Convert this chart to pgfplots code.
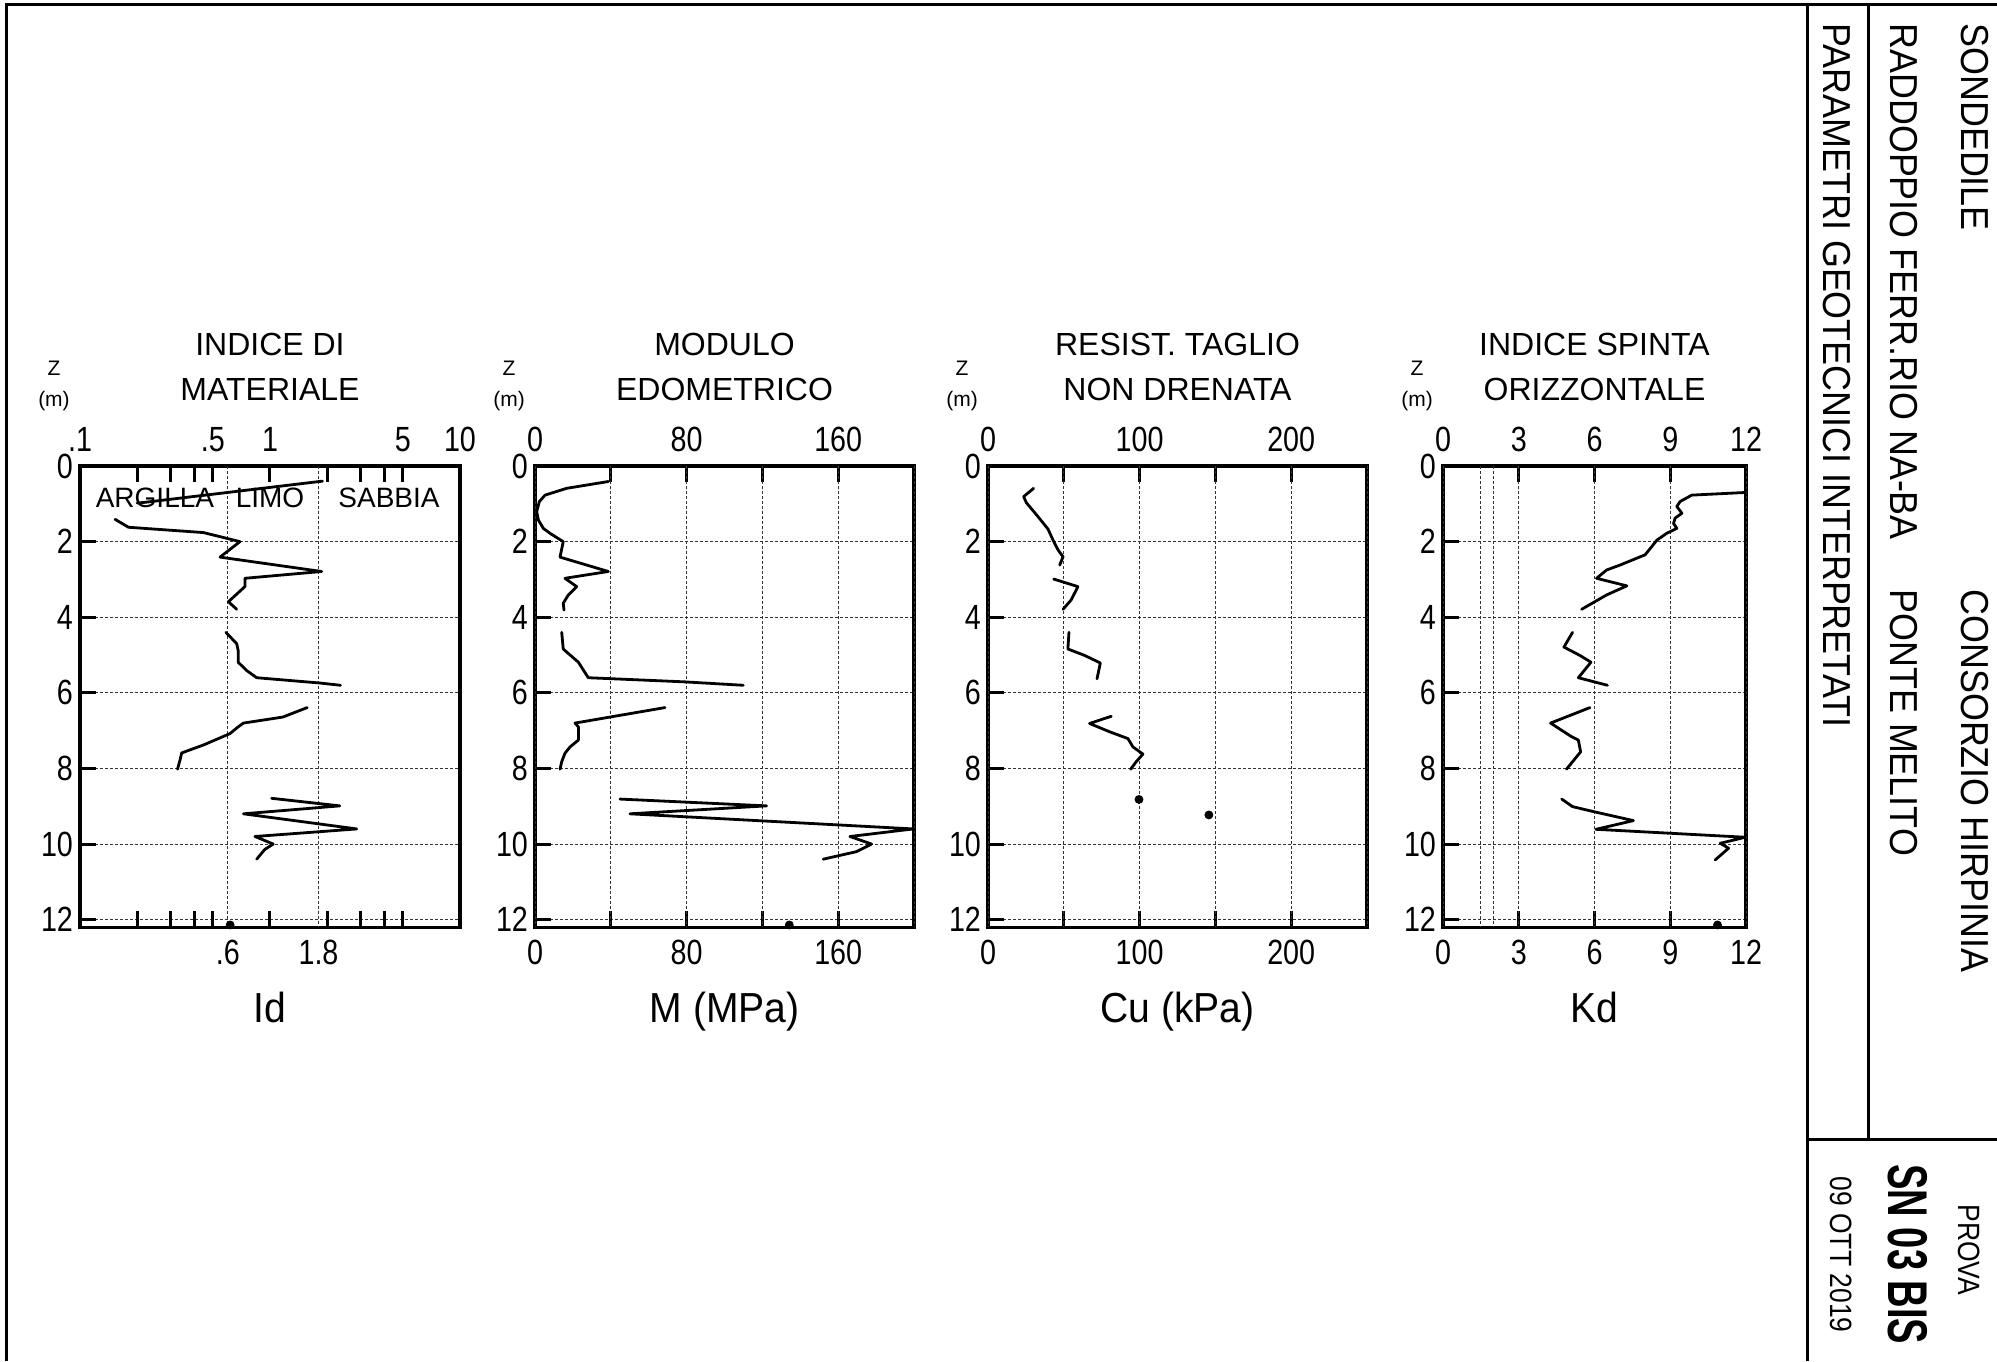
\documentclass[border=0pt]{standalone}
\usepackage{fontspec}
\setmainfont{Liberation Sans}
\newfontfamily\tickfam[FakeStretch=0.82]{Liberation Sans}
\newfontfamily\labfam[FakeStretch=0.93]{Liberation Sans}
\newfontfamily\hdrfam[FakeStretch=0.92]{Liberation Sans}
\newfontfamily\provfam[FakeStretch=0.86]{Liberation Sans}
\newfontfamily\snfam[FakeStretch=0.68]{Liberation Sans}
\usepackage{pgfplots}
\pgfplotsset{compat=1.18}
\pgfplotsset{
  panel/.style={
    scale only axis, height=230.6pt, anchor=north west,
    y dir=reverse, ymin=0, ymax=12.2,
    ytick={0,2,4,6,8,10,12}, yticklabels={0,2,4,6,8,10,12}, ytick pos=left,
    xtick pos=both, xticklabels={},
    tick align=inside, major tick length=8pt,
    tick style={black, line width=1.5pt},
    axis line style={black, line width=1.6pt},
    ymajorgrids,
    grid style={black!80, line width=0.5pt, dash pattern=on 1.5pt off 1pt},
    extra tick style={grid=major, major tick length=0pt},
    tick label style={font=\tickfam\fontsize{17.5pt}{20pt}\selectfont},
    xticklabel style={yshift=-3pt},
    /pgf/number format/assume math mode=true,
    clip=false,
  },
  labaxis/.style={
    scale only axis, height=230.6pt, anchor=north west,
    y dir=reverse, ymin=0, ymax=12.2, ytick=\empty,
    axis line style={draw=none}, tick style={draw=none}, major tick length=0pt,
    xticklabel pos=upper,
    tick label style={font=\tickfam\fontsize{17.5pt}{20pt}\selectfont},
    xticklabel style={yshift=3.5pt},
    /pgf/number format/assume math mode=true,
  },
  curve/.style={black, line width=1.4pt, line join=round, line cap=round, no markers},
  dot/.style={black, only marks, mark=*, mark size=2pt},
}
\newcommand\paneltext[3]{%
  \node[anchor=base, font=\fontsize{16pt}{18pt}\selectfont, yshift=55.5pt] at (axis description cs:0.5,1) {#1};
  \node[anchor=base, font=\fontsize{16pt}{18pt}\selectfont, yshift=33pt] at (axis description cs:0.5,1) {#2};
  \node[anchor=base, font=\fontsize{10.5pt}{12pt}\selectfont, yshift=45.5pt, xshift=-13pt] at (axis description cs:0,1) {Z};
  \node[anchor=base, font=\fontsize{10.5pt}{12pt}\selectfont, yshift=30pt, xshift=-13pt] at (axis description cs:0,1) {(m)};
  \node[anchor=base, font=\labfam\fontsize{21pt}{24pt}\selectfont, yshift=-47.5pt] at (axis description cs:0.5,0) {#3};
}
\begin{document}
\begin{tikzpicture}
\useasboundingbox (0,0) rectangle (998.5pt,-680.5pt);

% ---------- Panel 1: Id ----------
\begin{axis}[panel, at={(40pt,-233pt)}, width=190pt,
  xmode=log, xmin=0.1, xmax=10,
  xtick={0.2,0.3,0.4,0.5,1,2,3,4,5},
  extra x ticks={0.6,1.8}, extra x tick labels={.6,1.8}]
\addplot[curve] coordinates {(1.89,0.40) (0.22,0.96) (0.20,0.98)};
\addplot[curve] coordinates {(0.153,1.41) (0.18,1.62) (0.446,1.76) (0.695,2.0) (0.546,2.41) (1.87,2.79) (0.738,2.97) (0.738,3.19) (0.604,3.59) (0.668,3.79)};
\addplot[curve] coordinates {(0.586,4.40) (0.668,4.70) (0.68,4.88) (0.68,5.19) (0.754,5.41) (0.851,5.60) (1.83,5.74) (2.35,5.80)};
\addplot[curve] coordinates {(1.57,6.39) (1.17,6.64) (0.725,6.80) (0.68,6.90) (0.615,7.08) (0.446,7.38) (0.343,7.59) (0.336,7.78) (0.326,8.02)};
\addplot[curve] coordinates {(1.02,8.79) (2.33,8.99) (0.725,9.20) (2.86,9.60) (0.834,9.80) (1.04,10.0) (0.94,10.14) (0.851,10.40)};
\addplot[dot] coordinates {(0.617,12.14)};
\node[anchor=base, font=\fontsize{14pt}{16pt}\selectfont] at (axis cs:0.248,1.11) {ARGILLA};
\node[anchor=base, font=\fontsize{14pt}{16pt}\selectfont] at (axis cs:1.0,1.11) {LIMO};
\node[anchor=base, font=\fontsize{14pt}{16pt}\selectfont] at (axis cs:4.23,1.11) {SABBIA};
\paneltext{INDICE DI}{MATERIALE}{Id}
\end{axis}
\begin{axis}[labaxis, at={(40pt,-233pt)}, width=190pt,
  xmode=log, xmin=0.1, xmax=10,
  xtick={0.1,0.5,1,5,10}, xticklabels={.1,.5,1,5,10}]
\addplot[draw=none] coordinates {(1,1)};
\end{axis}

% ---------- Panel 2: M ----------
\begin{axis}[panel, at={(267.5pt,-233pt)}, width=189.5pt,
  xmin=0, xmax=200, xtick={40,80,120,160},
  extra x ticks={0,40,80,120,160,200}, extra x tick labels={0,,80,,160,}]
\addplot[curve] coordinates {(38.7,0.41) (16.7,0.59) (5.3,0.77) (2.3,0.94) (0.9,1.21) (1.8,1.43) (4.4,1.65) (7.9,1.78) (14.9,2.0) (13.2,2.41) (38.7,2.79) (15.8,2.97) (22,3.19) (17.6,3.41) (14.9,3.63) (15.3,3.81)};
\addplot[curve] coordinates {(14.1,4.40) (14.9,4.84) (16.7,4.92) (22.9,5.19) (28.1,5.60) (79.1,5.71) (109.9,5.80)};
\addplot[curve] coordinates {(68.6,6.39) (21.1,6.80) (22.9,6.90) (22.9,7.25) (18.5,7.43) (15.8,7.60) (14.1,7.82) (13.2,8.02)};
\addplot[curve] coordinates {(44.8,8.81) (122.2,8.99) (50.1,9.20) (199.6,9.60) (166.2,9.80) (177.6,10.0) (169.7,10.2) (152.1,10.40)};
\addplot[dot] coordinates {(134.2,12.14)};
\paneltext{MODULO}{EDOMETRICO}{M (MPa)}
\end{axis}
\begin{axis}[labaxis, at={(267.5pt,-233pt)}, width=189.5pt,
  xmin=0, xmax=200, xtick={0,80,160}, xticklabels={0,80,160}]
\addplot[draw=none] coordinates {(1,1)};
\end{axis}

% ---------- Panel 3: Cu ----------
\begin{axis}[panel, at={(494pt,-233pt)}, width=189.5pt,
  xmin=0, xmax=250, xtick={50,100,150,200},
  extra x ticks={0,50,100,150,200,250}, extra x tick labels={0,,100,,200,}]
\addplot[curve] coordinates {(30.1,0.59) (23.5,0.81) (25.3,0.97) (33.0,1.34) (39.6,1.67) (42.9,1.96) (46.2,2.22) (49.5,2.40) (47.3,2.62)};
\addplot[curve] coordinates {(43.3,2.99) (59.3,3.19) (54.9,3.54) (49.5,3.79)};
\addplot[curve] coordinates {(53.4,4.40) (52.7,4.84) (63.7,5.01) (74.1,5.21) (71.9,5.63)};
\addplot[curve] coordinates {(81.3,6.62) (67,6.81) (80.2,7.03) (92.3,7.21) (95.6,7.43) (102.2,7.62) (97.8,7.82) (94.1,8.02)};
\addplot[dot] coordinates {(99.6,8.82) (145.7,9.23)};
\paneltext{RESIST. TAGLIO}{NON DRENATA}{Cu (kPa)}
\end{axis}
\begin{axis}[labaxis, at={(494pt,-233pt)}, width=189.5pt,
  xmin=0, xmax=250, xtick={0,100,200}, xticklabels={0,100,200}]
\addplot[draw=none] coordinates {(1,1)};
\end{axis}

% ---------- Panel 4: Kd ----------
\begin{axis}[panel, at={(721.5pt,-233pt)}, width=151.5pt,
  xmin=0, xmax=12, xtick={3,6,9},
  extra x ticks={0,1.5,2,3,6,9,12}, extra x tick labels={0,,,3,6,9,12}]
\addplot[curve] coordinates {(11.97,0.70) (9.85,0.77) (9.39,0.94) (9.26,1.07) (9.46,1.25) (9.19,1.38) (9.13,1.52) (9.26,1.65) (8.86,1.78) (8.47,1.96) (8.27,2.13) (8.0,2.35) (7.01,2.62) (6.48,2.75) (6.08,2.97) (7.28,3.17) (6.48,3.41) (5.49,3.79)};
\addplot[curve] coordinates {(5.13,4.40) (4.79,4.79) (5.42,5.01) (5.86,5.19) (5.36,5.60) (6.51,5.80)};
\addplot[curve] coordinates {(5.82,6.39) (4.26,6.80) (5.09,7.16) (5.36,7.25) (5.45,7.56) (4.89,8.02)};
\addplot[curve] coordinates {(4.70,8.81) (5.13,9.01) (5.95,9.14) (7.54,9.38) (6.06,9.61) (11.97,9.82) (10.98,9.98) (11.31,10.11) (10.78,10.42)};
\addplot[dot] coordinates {(10.87,12.14)};
\paneltext{INDICE SPINTA}{ORIZZONTALE}{Kd}
\end{axis}
\begin{axis}[labaxis, at={(721.5pt,-233pt)}, width=151.5pt,
  xmin=0, xmax=12, xtick={0,3,6,9,12}, xticklabels={0,3,6,9,12}]
\addplot[draw=none] coordinates {(1,1)};
\end{axis}

% ---------- frame and title block ----------
\begin{scope}[x=0.5pt, y=-0.5pt, line width=1.5pt]
\draw (6.5,1361) -- (6.5,4) -- (1997,4);
\draw (1807,4) -- (1807,1361);
\draw (1868,4) -- (1868,1139);
\draw (1807,1139) -- (1997,1139);
\node[rotate=-90, anchor=base west, inner sep=0pt, font=\hdrfam\fontsize{19.5pt}{22pt}\selectfont] at (1823,22) {PARAMETRI GEOTECNICI INTERPRETATI};
\node[rotate=-90, anchor=base west, inner sep=0pt, font=\hdrfam\fontsize{19.5pt}{22pt}\selectfont] at (1890,22) {RADDOPPIO FERR.RIO NA-BA};
\node[rotate=-90, anchor=base west, inner sep=0pt, font=\hdrfam\fontsize{19.5pt}{22pt}\selectfont] at (1890,588) {PONTE MELITO};
\node[rotate=-90, anchor=base west, inner sep=0pt, font=\hdrfam\fontsize{19.5pt}{22pt}\selectfont] at (1961,22) {SONDEDILE};
\node[rotate=-90, anchor=base west, inner sep=0pt, font=\hdrfam\fontsize{19.5pt}{22pt}\selectfont] at (1961,588) {CONSORZIO HIRPINIA};
\node[rotate=-90, anchor=base west, inner sep=0pt, font=\provfam\fontsize{15.4pt}{18pt}\selectfont] at (1958,1203) {PROVA};
\node[rotate=-90, anchor=base west, inner sep=0pt, font=\snfam\bfseries\fontsize{28pt}{32pt}\selectfont] at (1888,1163) {SN 03 BIS};
\node[rotate=-90, anchor=base west, inner sep=0pt, font=\provfam\fontsize{15.4pt}{18pt}\selectfont] at (1830,1175) {09 OTT 2019};
\end{scope}
\end{tikzpicture}
\end{document}
